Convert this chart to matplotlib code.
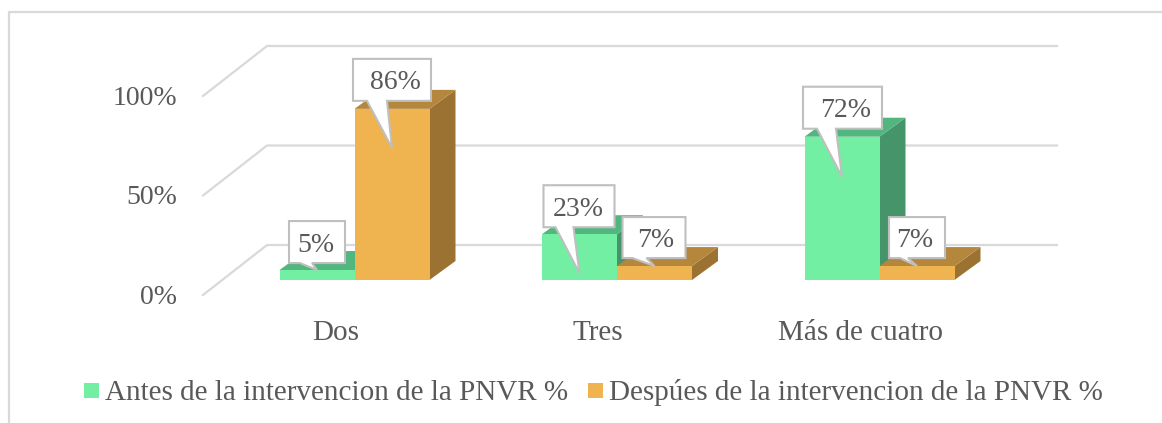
import matplotlib
matplotlib.use('Agg')
import matplotlib.pyplot as plt
from matplotlib.patches import Polygon, Rectangle

plt.rcParams['font.family'] = ['Liberation Serif', 'DejaVu Serif']

categories = ['Dos', 'Tres', 'Más de cuatro']
antes = [5, 23, 72]
despues = [86, 7, 7]
serie_antes = 'Antes de la intervencion de la PNVR %'
serie_despues = 'Despúes de la intervencion de la PNVR %'
y_ticks = [0, 50, 100]

W, H = 1162, 423
PX_X = 262.5     # pixeles por categoria
PX_Y = 1.99      # pixeles por punto porcentual
X0, Y0 = 354.5, 280
GREY = '#595959'
GRID = '#D9D9D9'
BAR_W = 75 / PX_X
DX, DY = 26 / PX_X, 19 / PX_Y      # profundidad de las barras

fig = plt.figure(figsize=(W / 100, H / 100), dpi=100)
ax = fig.add_axes([0, 0, 1, 1])
ax.set_xlim(-X0 / PX_X, (W - X0) / PX_X)
ax.set_ylim((Y0 - H) / PX_Y, Y0 / PX_Y)
ax.axis('off')

# marco: solo arriba e izquierda
bg = fig.add_axes([0, 0, 1, 1], zorder=-1)
bg.set_xlim(0, W)
bg.set_ylim(H, 0)
bg.axis('off')
bg.plot([9, 9, W], [H, 12, 12], color=GRID, lw=1.6)

# rejilla: pared del fondo y piso
FLOOR_Y = 15 / PX_Y
for t in y_ticks:
    x_a = (203 - X0) / PX_X
    x_b = (267 - X0) / PX_X
    x_c = (1057 - X0) / PX_X
    ax.plot([x_a, x_b, x_c], [t - FLOOR_Y, t + 35 / PX_Y, t + 35 / PX_Y],
            color=GRID, lw=1.6, zorder=1)
    ax.text(x_a - 26 / PX_X, t - FLOOR_Y - 2.5 / PX_Y, f'{t}%', ha='right', va='center',
            fontsize=20, color=GREY)


def bar3d(x, v, front, side, top):
    ax.bar(x, v, BAR_W, align='edge', color=front, linewidth=0, zorder=3)
    ax.add_patch(Polygon([(x + BAR_W, 0), (x + BAR_W + DX, DY), (x + BAR_W + DX, v + DY), (x + BAR_W, v)],
                         fc=side, ec='none', zorder=2))
    ax.add_patch(Polygon([(x, v), (x + DX, v + DY), (x + BAR_W + DX, v + DY), (x + BAR_W, v)],
                         fc=top, ec='none', zorder=2))


for i in range(len(categories)):
    bar3d(i - BAR_W, antes[i], '#72EFA2', '#46956A', '#52B67F')
    bar3d(i, despues[i], '#EFB34F', '#9C7233', '#B5873C')
    ax.text(i - 19 / PX_X, -26.5, categories[i], ha='center', va='center', fontsize=21, color=GREY)


# izquierda, derecha, arriba, abajo, cola a, cola b (pixeles desde la punta), caida de la punta, ajuste del texto
callouts = {
    (0, 0): (-28, 28, -49, -7, -17, -5, 0, -1),
    (0, 1): (-39, 39, -89, -47, -25, -5, 39, 3),
    (1, 0): (-36, 35, -88, -46, -24, -6, 39, -1),
    (1, 1): (-32, 31, -49, -8, -22, -8, 0, 2),
    (2, 0): (-39, 40, -90, -48, -25, -6, 40, 3),
    (2, 1): (-28, 28, -49, -8, -17, -9, 0, -2),
}


def callout(i, j, v):
    left, right, up, down, ta, tb, drop, shift = callouts[(i, j)]
    tx = i + (-BAR_W / 2 if j == 0 else BAR_W / 2)
    ty = v - drop / PX_Y
    px = lambda dx, dy: (tx + dx / PX_X, ty - dy / PX_Y)
    pts = [px(left, up), px(right, up), px(right, down), px(tb, down), px(0, 0), px(ta, down), px(left, down)]
    ax.add_patch(Polygon(pts, closed=True, fc='white', ec='#BFBFBF', lw=1.5, zorder=5, joinstyle='miter'))
    cx, cy = px((left + right) / 2 + shift, (up + down) / 2 + 3)
    ax.text(cx, cy, f'{v}%', ha='center', va='center', fontsize=20, color=GREY, zorder=6)


for i in range(len(categories)):
    callout(i, 0, antes[i])
    callout(i, 1, despues[i])

# leyenda
bg.add_patch(Rectangle((84, 383), 15, 15, fc='#72EFA2', ec='none'))
bg.text(105, 400, serie_antes, ha='left', va='baseline', fontsize=21, color=GREY)
bg.add_patch(Rectangle((588, 383), 15, 15, fc='#EFB34F', ec='none'))
bg.text(609, 400, serie_despues, ha='left', va='baseline', fontsize=21, color=GREY)

fig.savefig('out.png', dpi=100)
